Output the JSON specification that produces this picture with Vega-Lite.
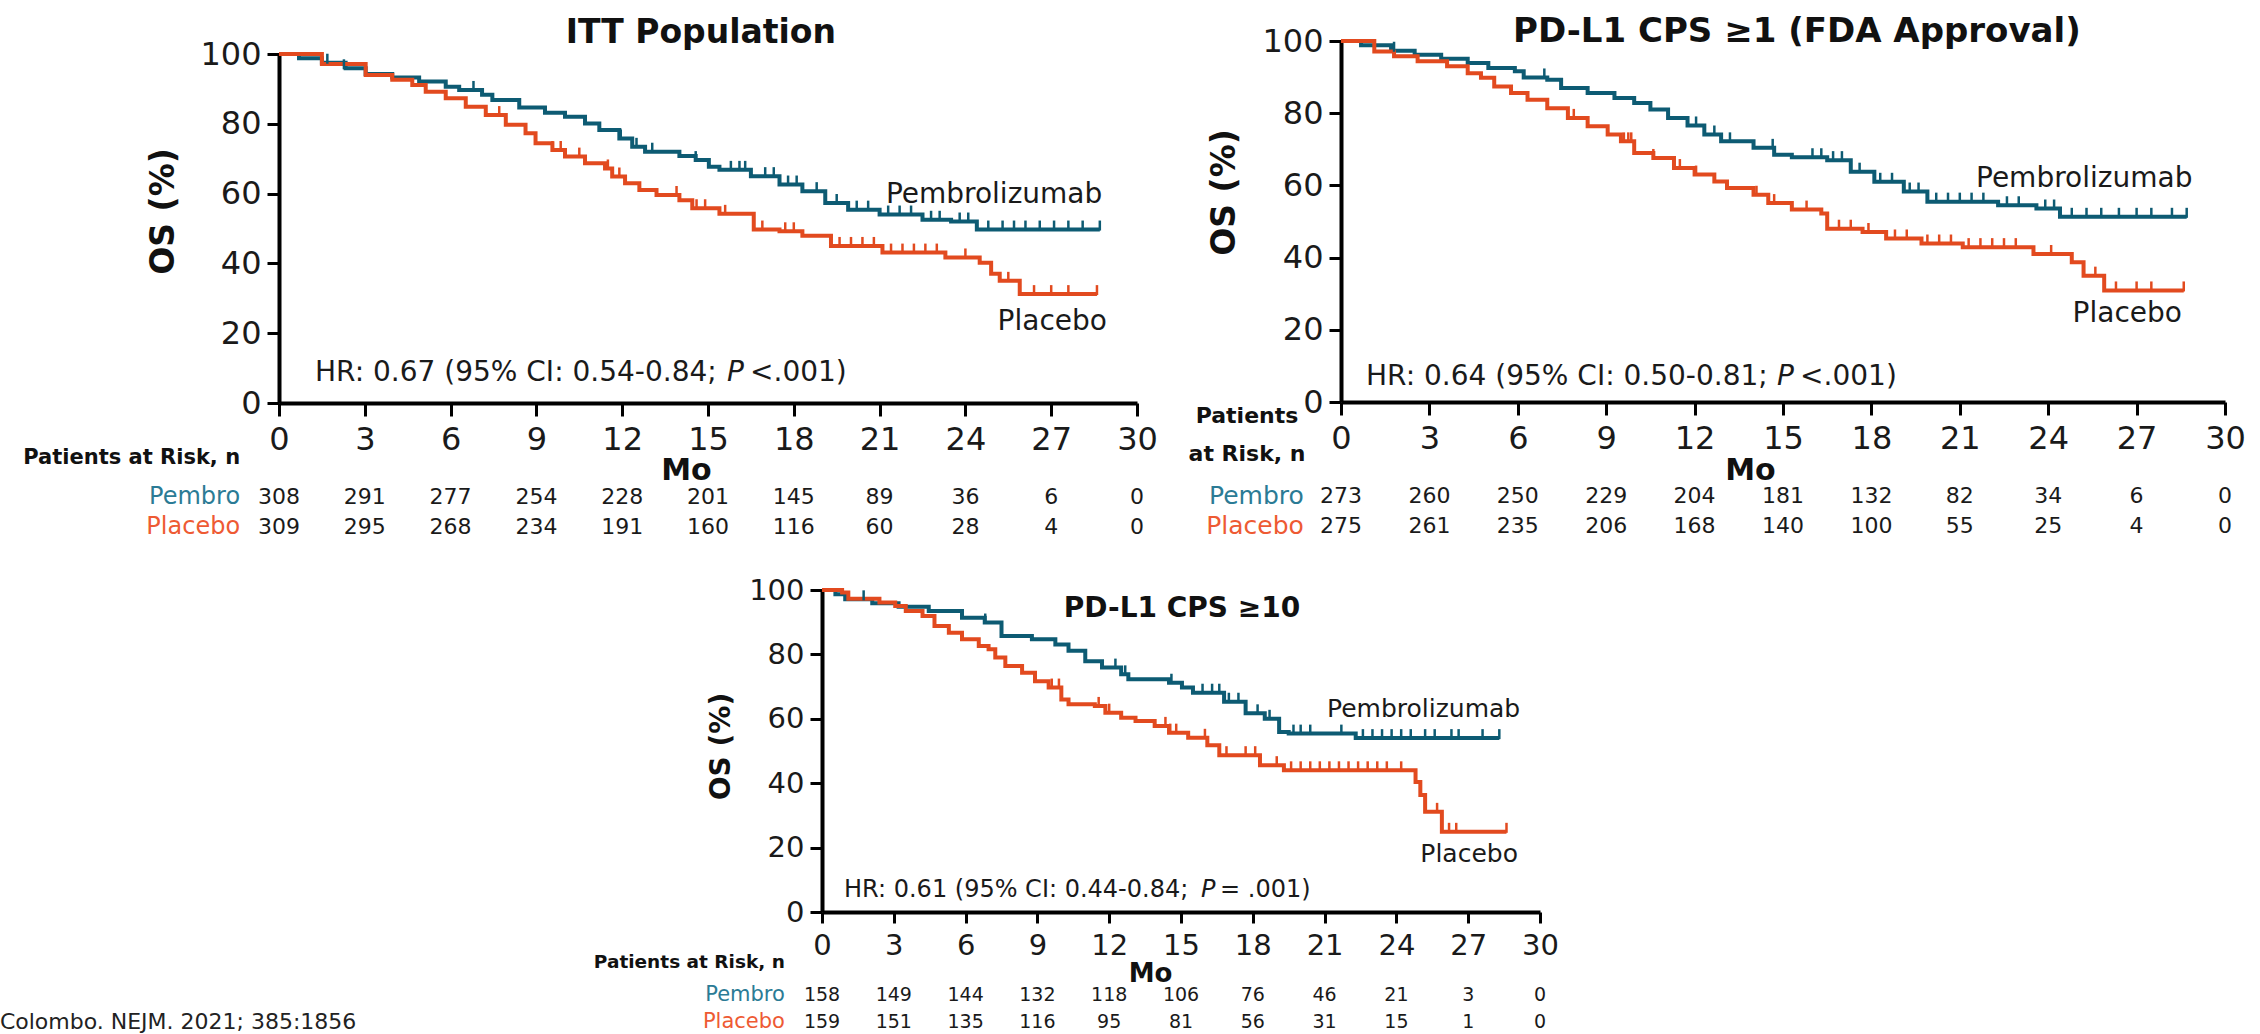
{
"$schema": "https://vega.github.io/schema/vega-lite/v6.json",
"width": 2260, "height": 1034,
"autosize": {"type": "none"},
"padding": 0,
"background": "#ffffff",
"config": {
  "font": "DejaVu Sans",
  "view": {"stroke": null},
  "text": {"color": "#1a1a1a"},
  "axis": {"grid": false, "domainColor": "#000000", "tickColor": "#000000", "labelColor": "#1a1a1a", "titleColor": "#111111", "labelFlush": false, "labelOverlap": false, "labelBound": false, "domainWidth": 4, "tickWidth": 3, "titleFontWeight": "bold", "labelFont": "DejaVu Sans", "titleFont": "DejaVu Sans", "format": "d"}
},
"datasets": {
"km": [
{"panel":"ITT","arm":"Pembrolizumab","month":0,"os":100},{"panel":"ITT","arm":"Pembrolizumab","month":0.7,"os":98.8},{"panel":"ITT","arm":"Pembrolizumab","month":1.5,"os":97.5},{"panel":"ITT","arm":"Pembrolizumab","month":2.33,"os":95.9},{"panel":"ITT","arm":"Pembrolizumab","month":3.03,"os":94.3},{"panel":"ITT","arm":"Pembrolizumab","month":3.96,"os":93.3},{"panel":"ITT","arm":"Pembrolizumab","month":4.9,"os":92.1},{"panel":"ITT","arm":"Pembrolizumab","month":5.83,"os":90.6},{"panel":"ITT","arm":"Pembrolizumab","month":6.3,"os":89.7},{"panel":"ITT","arm":"Pembrolizumab","month":7.1,"os":88.3},{"panel":"ITT","arm":"Pembrolizumab","month":7.46,"os":86.8},{"panel":"ITT","arm":"Pembrolizumab","month":8.4,"os":84.7},{"panel":"ITT","arm":"Pembrolizumab","month":9.3,"os":83.2},{"panel":"ITT","arm":"Pembrolizumab","month":10,"os":82},{"panel":"ITT","arm":"Pembrolizumab","month":10.7,"os":80.1},{"panel":"ITT","arm":"Pembrolizumab","month":11.2,"os":78.2},{"panel":"ITT","arm":"Pembrolizumab","month":11.9,"os":75.8},{"panel":"ITT","arm":"Pembrolizumab","month":12.35,"os":73.4},{"panel":"ITT","arm":"Pembrolizumab","month":12.8,"os":72},{"panel":"ITT","arm":"Pembrolizumab","month":14,"os":70.8},{"panel":"ITT","arm":"Pembrolizumab","month":14.57,"os":69.6},{"panel":"ITT","arm":"Pembrolizumab","month":15.03,"os":67.7},{"panel":"ITT","arm":"Pembrolizumab","month":15.4,"os":66.8},{"panel":"ITT","arm":"Pembrolizumab","month":16.5,"os":65},{"panel":"ITT","arm":"Pembrolizumab","month":17.5,"os":62.6},{"panel":"ITT","arm":"Pembrolizumab","month":18.3,"os":60.7},{"panel":"ITT","arm":"Pembrolizumab","month":19.1,"os":57.3},{"panel":"ITT","arm":"Pembrolizumab","month":19.9,"os":55.4},{"panel":"ITT","arm":"Pembrolizumab","month":21,"os":54},{"panel":"ITT","arm":"Pembrolizumab","month":22.5,"os":52.5},{"panel":"ITT","arm":"Pembrolizumab","month":23.5,"os":52},{"panel":"ITT","arm":"Pembrolizumab","month":24.4,"os":49.7},{"panel":"ITT","arm":"Pembrolizumab","month":28.7,"os":49.7},
{"panel":"ITT","arm":"Placebo","month":0,"os":100},{"panel":"ITT","arm":"Placebo","month":1.5,"os":97.1},{"panel":"ITT","arm":"Placebo","month":3.03,"os":94},{"panel":"ITT","arm":"Placebo","month":3.96,"os":92.6},{"panel":"ITT","arm":"Placebo","month":4.66,"os":91.1},{"panel":"ITT","arm":"Placebo","month":5.13,"os":89.2},{"panel":"ITT","arm":"Placebo","month":5.83,"os":87.3},{"panel":"ITT","arm":"Placebo","month":6.53,"os":84.9},{"panel":"ITT","arm":"Placebo","month":7.23,"os":82.5},{"panel":"ITT","arm":"Placebo","month":7.93,"os":79.7},{"panel":"ITT","arm":"Placebo","month":8.62,"os":77.3},{"panel":"ITT","arm":"Placebo","month":8.97,"os":74.4},{"panel":"ITT","arm":"Placebo","month":9.56,"os":72.5},{"panel":"ITT","arm":"Placebo","month":10,"os":70.6},{"panel":"ITT","arm":"Placebo","month":10.7,"os":68.7},{"panel":"ITT","arm":"Placebo","month":11.4,"os":67.2},{"panel":"ITT","arm":"Placebo","month":11.65,"os":64.9},{"panel":"ITT","arm":"Placebo","month":12.1,"os":63},{"panel":"ITT","arm":"Placebo","month":12.6,"os":61},{"panel":"ITT","arm":"Placebo","month":13.2,"os":59.6},{"panel":"ITT","arm":"Placebo","month":14,"os":58.1},{"panel":"ITT","arm":"Placebo","month":14.45,"os":55.8},{"panel":"ITT","arm":"Placebo","month":15.4,"os":54.2},{"panel":"ITT","arm":"Placebo","month":16.6,"os":49.7},{"panel":"ITT","arm":"Placebo","month":17.5,"os":49.2},{"panel":"ITT","arm":"Placebo","month":18.3,"os":47.9},{"panel":"ITT","arm":"Placebo","month":19.3,"os":45},{"panel":"ITT","arm":"Placebo","month":21.1,"os":43.1},{"panel":"ITT","arm":"Placebo","month":23.3,"os":41.7},{"panel":"ITT","arm":"Placebo","month":24.5,"os":40.2},{"panel":"ITT","arm":"Placebo","month":24.9,"os":37},{"panel":"ITT","arm":"Placebo","month":25.2,"os":35},{"panel":"ITT","arm":"Placebo","month":25.9,"os":31.2},{"panel":"ITT","arm":"Placebo","month":28.6,"os":31.2},
{"panel":"CPS1","arm":"Pembrolizumab","month":0,"os":100},{"panel":"CPS1","arm":"Pembrolizumab","month":0.68,"os":98.8},{"panel":"CPS1","arm":"Pembrolizumab","month":1.7,"os":97.3},{"panel":"CPS1","arm":"Pembrolizumab","month":2.5,"os":96.2},{"panel":"CPS1","arm":"Pembrolizumab","month":3.4,"os":95.1},{"panel":"CPS1","arm":"Pembrolizumab","month":4.3,"os":93.9},{"panel":"CPS1","arm":"Pembrolizumab","month":5,"os":92.5},{"panel":"CPS1","arm":"Pembrolizumab","month":5.9,"os":91.6},{"panel":"CPS1","arm":"Pembrolizumab","month":6.2,"os":89.9},{"panel":"CPS1","arm":"Pembrolizumab","month":7,"os":89.3},{"panel":"CPS1","arm":"Pembrolizumab","month":7.47,"os":87},{"panel":"CPS1","arm":"Pembrolizumab","month":8.37,"os":85.6},{"panel":"CPS1","arm":"Pembrolizumab","month":9.28,"os":84.2},{"panel":"CPS1","arm":"Pembrolizumab","month":9.95,"os":82.8},{"panel":"CPS1","arm":"Pembrolizumab","month":10.5,"os":81},{"panel":"CPS1","arm":"Pembrolizumab","month":11.1,"os":78.7},{"panel":"CPS1","arm":"Pembrolizumab","month":11.76,"os":76.6},{"panel":"CPS1","arm":"Pembrolizumab","month":12.33,"os":74.1},{"panel":"CPS1","arm":"Pembrolizumab","month":12.9,"os":72.2},{"panel":"CPS1","arm":"Pembrolizumab","month":14,"os":70.4},{"panel":"CPS1","arm":"Pembrolizumab","month":14.7,"os":68.5},{"panel":"CPS1","arm":"Pembrolizumab","month":15.3,"os":67.8},{"panel":"CPS1","arm":"Pembrolizumab","month":16.5,"os":67},{"panel":"CPS1","arm":"Pembrolizumab","month":17.3,"os":63.8},{"panel":"CPS1","arm":"Pembrolizumab","month":18.1,"os":61},{"panel":"CPS1","arm":"Pembrolizumab","month":19.1,"os":58.3},{"panel":"CPS1","arm":"Pembrolizumab","month":19.9,"os":55.5},{"panel":"CPS1","arm":"Pembrolizumab","month":22.3,"os":54.5},{"panel":"CPS1","arm":"Pembrolizumab","month":23.6,"os":53.6},{"panel":"CPS1","arm":"Pembrolizumab","month":24.4,"os":51.3},{"panel":"CPS1","arm":"Pembrolizumab","month":28.7,"os":51.3},
{"panel":"CPS1","arm":"Placebo","month":0,"os":100},{"panel":"CPS1","arm":"Placebo","month":1.13,"os":97.1},{"panel":"CPS1","arm":"Placebo","month":1.8,"os":95.8},{"panel":"CPS1","arm":"Placebo","month":2.6,"os":94.4},{"panel":"CPS1","arm":"Placebo","month":3.6,"os":93},{"panel":"CPS1","arm":"Placebo","month":4.3,"os":91.1},{"panel":"CPS1","arm":"Placebo","month":4.75,"os":89.8},{"panel":"CPS1","arm":"Placebo","month":5.2,"os":87.4},{"panel":"CPS1","arm":"Placebo","month":5.77,"os":85.6},{"panel":"CPS1","arm":"Placebo","month":6.33,"os":83.7},{"panel":"CPS1","arm":"Placebo","month":7,"os":81.4},{"panel":"CPS1","arm":"Placebo","month":7.7,"os":78.7},{"panel":"CPS1","arm":"Placebo","month":8.37,"os":76.4},{"panel":"CPS1","arm":"Placebo","month":9.05,"os":74.1},{"panel":"CPS1","arm":"Placebo","month":9.5,"os":72.2},{"panel":"CPS1","arm":"Placebo","month":9.95,"os":69},{"panel":"CPS1","arm":"Placebo","month":10.6,"os":67.6},{"panel":"CPS1","arm":"Placebo","month":11.3,"os":64.8},{"panel":"CPS1","arm":"Placebo","month":12,"os":63},{"panel":"CPS1","arm":"Placebo","month":12.67,"os":61.1},{"panel":"CPS1","arm":"Placebo","month":13.1,"os":59.3},{"panel":"CPS1","arm":"Placebo","month":14,"os":57.4},{"panel":"CPS1","arm":"Placebo","month":14.5,"os":55.1},{"panel":"CPS1","arm":"Placebo","month":15.3,"os":53.3},{"panel":"CPS1","arm":"Placebo","month":16.3,"os":52.2},{"panel":"CPS1","arm":"Placebo","month":16.5,"os":48},{"panel":"CPS1","arm":"Placebo","month":17.7,"os":47.1},{"panel":"CPS1","arm":"Placebo","month":18.5,"os":45.3},{"panel":"CPS1","arm":"Placebo","month":19.7,"os":43.9},{"panel":"CPS1","arm":"Placebo","month":21.1,"os":42.9},{"panel":"CPS1","arm":"Placebo","month":23.5,"os":41},{"panel":"CPS1","arm":"Placebo","month":24.8,"os":38.7},{"panel":"CPS1","arm":"Placebo","month":25.2,"os":35},{"panel":"CPS1","arm":"Placebo","month":25.9,"os":30.9},{"panel":"CPS1","arm":"Placebo","month":28.6,"os":30.9},
{"panel":"CPS10","arm":"Pembrolizumab","month":0,"os":100},{"panel":"CPS10","arm":"Pembrolizumab","month":0.56,"os":98.7},{"panel":"CPS10","arm":"Pembrolizumab","month":0.97,"os":97.1},{"panel":"CPS10","arm":"Pembrolizumab","month":2.1,"os":95.9},{"panel":"CPS10","arm":"Pembrolizumab","month":3.2,"os":94.8},{"panel":"CPS10","arm":"Pembrolizumab","month":4.46,"os":93.5},{"panel":"CPS10","arm":"Pembrolizumab","month":5.85,"os":91.4},{"panel":"CPS10","arm":"Pembrolizumab","month":6.8,"os":89.9},{"panel":"CPS10","arm":"Pembrolizumab","month":7.5,"os":85.7},{"panel":"CPS10","arm":"Pembrolizumab","month":8.77,"os":84.7},{"panel":"CPS10","arm":"Pembrolizumab","month":9.75,"os":83.1},{"panel":"CPS10","arm":"Pembrolizumab","month":10.3,"os":81.1},{"panel":"CPS10","arm":"Pembrolizumab","month":11,"os":77.9},{"panel":"CPS10","arm":"Pembrolizumab","month":11.7,"os":75.9},{"panel":"CPS10","arm":"Pembrolizumab","month":12.5,"os":73.8},{"panel":"CPS10","arm":"Pembrolizumab","month":12.8,"os":72.3},{"panel":"CPS10","arm":"Pembrolizumab","month":14.5,"os":71.2},{"panel":"CPS10","arm":"Pembrolizumab","month":15.04,"os":69.7},{"panel":"CPS10","arm":"Pembrolizumab","month":15.5,"os":68.1},{"panel":"CPS10","arm":"Pembrolizumab","month":16.8,"os":65.3},{"panel":"CPS10","arm":"Pembrolizumab","month":17.7,"os":61.7},{"panel":"CPS10","arm":"Pembrolizumab","month":18.5,"os":60},{"panel":"CPS10","arm":"Pembrolizumab","month":19.1,"os":55.9},{"panel":"CPS10","arm":"Pembrolizumab","month":19.5,"os":55.4},{"panel":"CPS10","arm":"Pembrolizumab","month":22.3,"os":54},{"panel":"CPS10","arm":"Pembrolizumab","month":28.3,"os":54},
{"panel":"CPS10","arm":"Placebo","month":0,"os":100},{"panel":"CPS10","arm":"Placebo","month":0.84,"os":99.2},{"panel":"CPS10","arm":"Placebo","month":1.1,"os":97.3},{"panel":"CPS10","arm":"Placebo","month":2.4,"os":96.1},{"panel":"CPS10","arm":"Placebo","month":3.06,"os":95},{"panel":"CPS10","arm":"Placebo","month":3.5,"os":93.5},{"panel":"CPS10","arm":"Placebo","month":4.2,"os":91.9},{"panel":"CPS10","arm":"Placebo","month":4.7,"os":88.8},{"panel":"CPS10","arm":"Placebo","month":5.3,"os":86.7},{"panel":"CPS10","arm":"Placebo","month":5.85,"os":84.7},{"panel":"CPS10","arm":"Placebo","month":6.55,"os":82.6},{"panel":"CPS10","arm":"Placebo","month":6.96,"os":81.6},{"panel":"CPS10","arm":"Placebo","month":7.24,"os":79},{"panel":"CPS10","arm":"Placebo","month":7.66,"os":76.4},{"panel":"CPS10","arm":"Placebo","month":8.36,"os":74.3},{"panel":"CPS10","arm":"Placebo","month":8.9,"os":71.7},{"panel":"CPS10","arm":"Placebo","month":9.47,"os":69.7},{"panel":"CPS10","arm":"Placebo","month":10,"os":66},{"panel":"CPS10","arm":"Placebo","month":10.3,"os":64.5},{"panel":"CPS10","arm":"Placebo","month":11.4,"os":64},{"panel":"CPS10","arm":"Placebo","month":11.84,"os":61.9},{"panel":"CPS10","arm":"Placebo","month":12.5,"os":60.3},{"panel":"CPS10","arm":"Placebo","month":13.1,"os":59.3},{"panel":"CPS10","arm":"Placebo","month":13.9,"os":57.8},{"panel":"CPS10","arm":"Placebo","month":14.5,"os":55.7},{"panel":"CPS10","arm":"Placebo","month":15.3,"os":54.1},{"panel":"CPS10","arm":"Placebo","month":16.1,"os":51.8},{"panel":"CPS10","arm":"Placebo","month":16.6,"os":48.7},{"panel":"CPS10","arm":"Placebo","month":18.3,"os":45.6},{"panel":"CPS10","arm":"Placebo","month":19.3,"os":44},{"panel":"CPS10","arm":"Placebo","month":24.8,"os":40.4},{"panel":"CPS10","arm":"Placebo","month":25,"os":36.3},{"panel":"CPS10","arm":"Placebo","month":25.2,"os":31.1},{"panel":"CPS10","arm":"Placebo","month":25.9,"os":24.9},{"panel":"CPS10","arm":"Placebo","month":28.6,"os":24.9}
],
"censor": [
{"panel":"ITT","arm":"Pembrolizumab","month":1.69,"os":97.5},{"panel":"ITT","arm":"Pembrolizumab","month":2.27,"os":95.9},{"panel":"ITT","arm":"Pembrolizumab","month":6.8,"os":89.7},{"panel":"ITT","arm":"Pembrolizumab","month":11.95,"os":75.8},{"panel":"ITT","arm":"Pembrolizumab","month":12.5,"os":73.4},{"panel":"ITT","arm":"Pembrolizumab","month":13.05,"os":72},{"panel":"ITT","arm":"Pembrolizumab","month":14.57,"os":69.6},{"panel":"ITT","arm":"Pembrolizumab","month":15.8,"os":66.8},{"panel":"ITT","arm":"Pembrolizumab","month":16.1,"os":66.8},{"panel":"ITT","arm":"Pembrolizumab","month":16.3,"os":66.8},{"panel":"ITT","arm":"Pembrolizumab","month":17,"os":65},{"panel":"ITT","arm":"Pembrolizumab","month":17.3,"os":65},{"panel":"ITT","arm":"Pembrolizumab","month":17.8,"os":62.6},{"panel":"ITT","arm":"Pembrolizumab","month":18.1,"os":62.6},{"panel":"ITT","arm":"Pembrolizumab","month":18.8,"os":60.7},{"panel":"ITT","arm":"Pembrolizumab","month":19.5,"os":57.3},{"panel":"ITT","arm":"Pembrolizumab","month":20.2,"os":55.4},{"panel":"ITT","arm":"Pembrolizumab","month":20.6,"os":55.4},{"panel":"ITT","arm":"Pembrolizumab","month":21.3,"os":54},{"panel":"ITT","arm":"Pembrolizumab","month":21.7,"os":54},{"panel":"ITT","arm":"Pembrolizumab","month":22.1,"os":54},{"panel":"ITT","arm":"Pembrolizumab","month":22.8,"os":52.5},{"panel":"ITT","arm":"Pembrolizumab","month":23.1,"os":52.5},{"panel":"ITT","arm":"Pembrolizumab","month":23.8,"os":52},{"panel":"ITT","arm":"Pembrolizumab","month":24.1,"os":52},{"panel":"ITT","arm":"Pembrolizumab","month":24.8,"os":49.7},{"panel":"ITT","arm":"Pembrolizumab","month":25.3,"os":49.7},{"panel":"ITT","arm":"Pembrolizumab","month":25.7,"os":49.7},{"panel":"ITT","arm":"Pembrolizumab","month":26.1,"os":49.7},{"panel":"ITT","arm":"Pembrolizumab","month":26.6,"os":49.7},{"panel":"ITT","arm":"Pembrolizumab","month":27.1,"os":49.7},{"panel":"ITT","arm":"Pembrolizumab","month":27.6,"os":49.7},{"panel":"ITT","arm":"Pembrolizumab","month":28.1,"os":49.7},{"panel":"ITT","arm":"Pembrolizumab","month":28.7,"os":49.7},
{"panel":"ITT","arm":"Placebo","month":7.7,"os":82.5},{"panel":"ITT","arm":"Placebo","month":9.56,"os":72.5},{"panel":"ITT","arm":"Placebo","month":9.85,"os":72.5},{"panel":"ITT","arm":"Placebo","month":10.5,"os":70.6},{"panel":"ITT","arm":"Placebo","month":11.5,"os":67.2},{"panel":"ITT","arm":"Placebo","month":11.9,"os":64.9},{"panel":"ITT","arm":"Placebo","month":13.9,"os":59.6},{"panel":"ITT","arm":"Placebo","month":14.6,"os":55.8},{"panel":"ITT","arm":"Placebo","month":14.9,"os":55.8},{"panel":"ITT","arm":"Placebo","month":15.6,"os":54.2},{"panel":"ITT","arm":"Placebo","month":16.9,"os":49.7},{"panel":"ITT","arm":"Placebo","month":17.7,"os":49.2},{"panel":"ITT","arm":"Placebo","month":18,"os":49.2},{"panel":"ITT","arm":"Placebo","month":19.6,"os":45},{"panel":"ITT","arm":"Placebo","month":20,"os":45},{"panel":"ITT","arm":"Placebo","month":20.4,"os":45},{"panel":"ITT","arm":"Placebo","month":20.8,"os":45},{"panel":"ITT","arm":"Placebo","month":21.4,"os":43.1},{"panel":"ITT","arm":"Placebo","month":21.8,"os":43.1},{"panel":"ITT","arm":"Placebo","month":22.2,"os":43.1},{"panel":"ITT","arm":"Placebo","month":22.6,"os":43.1},{"panel":"ITT","arm":"Placebo","month":23,"os":43.1},{"panel":"ITT","arm":"Placebo","month":24,"os":41.7},{"panel":"ITT","arm":"Placebo","month":25.5,"os":35},{"panel":"ITT","arm":"Placebo","month":26.4,"os":31.2},{"panel":"ITT","arm":"Placebo","month":27,"os":31.2},{"panel":"ITT","arm":"Placebo","month":27.6,"os":31.2},{"panel":"ITT","arm":"Placebo","month":28.6,"os":31.2},
{"panel":"CPS1","arm":"Pembrolizumab","month":1.8,"os":97.3},{"panel":"CPS1","arm":"Pembrolizumab","month":6.9,"os":89.9},{"panel":"CPS1","arm":"Pembrolizumab","month":12.05,"os":76.6},{"panel":"CPS1","arm":"Pembrolizumab","month":12.67,"os":74.1},{"panel":"CPS1","arm":"Pembrolizumab","month":13.2,"os":72.2},{"panel":"CPS1","arm":"Pembrolizumab","month":14.65,"os":70.4},{"panel":"CPS1","arm":"Pembrolizumab","month":16,"os":67.8},{"panel":"CPS1","arm":"Pembrolizumab","month":16.3,"os":67.8},{"panel":"CPS1","arm":"Pembrolizumab","month":16.7,"os":67},{"panel":"CPS1","arm":"Pembrolizumab","month":17,"os":67},{"panel":"CPS1","arm":"Pembrolizumab","month":17.6,"os":63.8},{"panel":"CPS1","arm":"Pembrolizumab","month":18.3,"os":61},{"panel":"CPS1","arm":"Pembrolizumab","month":18.7,"os":61},{"panel":"CPS1","arm":"Pembrolizumab","month":19.3,"os":58.3},{"panel":"CPS1","arm":"Pembrolizumab","month":19.6,"os":58.3},{"panel":"CPS1","arm":"Pembrolizumab","month":20.2,"os":55.5},{"panel":"CPS1","arm":"Pembrolizumab","month":20.6,"os":55.5},{"panel":"CPS1","arm":"Pembrolizumab","month":21,"os":55.5},{"panel":"CPS1","arm":"Pembrolizumab","month":21.4,"os":55.5},{"panel":"CPS1","arm":"Pembrolizumab","month":21.8,"os":55.5},{"panel":"CPS1","arm":"Pembrolizumab","month":22.6,"os":54.5},{"panel":"CPS1","arm":"Pembrolizumab","month":23,"os":54.5},{"panel":"CPS1","arm":"Pembrolizumab","month":23.9,"os":53.6},{"panel":"CPS1","arm":"Pembrolizumab","month":24.2,"os":53.6},{"panel":"CPS1","arm":"Pembrolizumab","month":24.8,"os":51.3},{"panel":"CPS1","arm":"Pembrolizumab","month":25.3,"os":51.3},{"panel":"CPS1","arm":"Pembrolizumab","month":25.8,"os":51.3},{"panel":"CPS1","arm":"Pembrolizumab","month":26.4,"os":51.3},{"panel":"CPS1","arm":"Pembrolizumab","month":27,"os":51.3},{"panel":"CPS1","arm":"Pembrolizumab","month":27.5,"os":51.3},{"panel":"CPS1","arm":"Pembrolizumab","month":28.2,"os":51.3},{"panel":"CPS1","arm":"Pembrolizumab","month":28.7,"os":51.3},
{"panel":"CPS1","arm":"Placebo","month":7.9,"os":78.7},{"panel":"CPS1","arm":"Placebo","month":9.6,"os":72.2},{"panel":"CPS1","arm":"Placebo","month":9.75,"os":72.2},{"panel":"CPS1","arm":"Placebo","month":9.85,"os":72.2},{"panel":"CPS1","arm":"Placebo","month":10.6,"os":67.6},{"panel":"CPS1","arm":"Placebo","month":11.5,"os":64.8},{"panel":"CPS1","arm":"Placebo","month":12.05,"os":63},{"panel":"CPS1","arm":"Placebo","month":14.1,"os":57.4},{"panel":"CPS1","arm":"Placebo","month":14.7,"os":55.1},{"panel":"CPS1","arm":"Placebo","month":15.8,"os":53.3},{"panel":"CPS1","arm":"Placebo","month":16.9,"os":48},{"panel":"CPS1","arm":"Placebo","month":17.3,"os":48},{"panel":"CPS1","arm":"Placebo","month":17.9,"os":47.1},{"panel":"CPS1","arm":"Placebo","month":18.8,"os":45.3},{"panel":"CPS1","arm":"Placebo","month":19.2,"os":45.3},{"panel":"CPS1","arm":"Placebo","month":19.9,"os":43.9},{"panel":"CPS1","arm":"Placebo","month":20.3,"os":43.9},{"panel":"CPS1","arm":"Placebo","month":20.7,"os":43.9},{"panel":"CPS1","arm":"Placebo","month":21.3,"os":42.9},{"panel":"CPS1","arm":"Placebo","month":21.7,"os":42.9},{"panel":"CPS1","arm":"Placebo","month":22.1,"os":42.9},{"panel":"CPS1","arm":"Placebo","month":22.5,"os":42.9},{"panel":"CPS1","arm":"Placebo","month":22.9,"os":42.9},{"panel":"CPS1","arm":"Placebo","month":24.1,"os":41},{"panel":"CPS1","arm":"Placebo","month":25.6,"os":35},{"panel":"CPS1","arm":"Placebo","month":26.3,"os":30.9},{"panel":"CPS1","arm":"Placebo","month":27,"os":30.9},{"panel":"CPS1","arm":"Placebo","month":27.5,"os":30.9},{"panel":"CPS1","arm":"Placebo","month":28.6,"os":30.9},
{"panel":"CPS10","arm":"Pembrolizumab","month":1.74,"os":97.1},{"panel":"CPS10","arm":"Pembrolizumab","month":6.82,"os":89.9},{"panel":"CPS10","arm":"Pembrolizumab","month":12.26,"os":75.9},{"panel":"CPS10","arm":"Pembrolizumab","month":12.67,"os":73.8},{"panel":"CPS10","arm":"Pembrolizumab","month":14.6,"os":71.2},{"panel":"CPS10","arm":"Pembrolizumab","month":15.9,"os":68.1},{"panel":"CPS10","arm":"Pembrolizumab","month":16.3,"os":68.1},{"panel":"CPS10","arm":"Pembrolizumab","month":16.6,"os":68.1},{"panel":"CPS10","arm":"Pembrolizumab","month":17,"os":65.3},{"panel":"CPS10","arm":"Pembrolizumab","month":17.4,"os":65.3},{"panel":"CPS10","arm":"Pembrolizumab","month":18.2,"os":61.7},{"panel":"CPS10","arm":"Pembrolizumab","month":18.7,"os":60},{"panel":"CPS10","arm":"Pembrolizumab","month":19.7,"os":55.4},{"panel":"CPS10","arm":"Pembrolizumab","month":20,"os":55.4},{"panel":"CPS10","arm":"Pembrolizumab","month":20.4,"os":55.4},{"panel":"CPS10","arm":"Pembrolizumab","month":21.7,"os":55.4},{"panel":"CPS10","arm":"Pembrolizumab","month":22.6,"os":54},{"panel":"CPS10","arm":"Pembrolizumab","month":23,"os":54},{"panel":"CPS10","arm":"Pembrolizumab","month":23.4,"os":54},{"panel":"CPS10","arm":"Pembrolizumab","month":23.8,"os":54},{"panel":"CPS10","arm":"Pembrolizumab","month":24.2,"os":54},{"panel":"CPS10","arm":"Pembrolizumab","month":24.6,"os":54},{"panel":"CPS10","arm":"Pembrolizumab","month":25.2,"os":54},{"panel":"CPS10","arm":"Pembrolizumab","month":25.6,"os":54},{"panel":"CPS10","arm":"Pembrolizumab","month":26.3,"os":54},{"panel":"CPS10","arm":"Pembrolizumab","month":26.6,"os":54},{"panel":"CPS10","arm":"Pembrolizumab","month":27.6,"os":54},{"panel":"CPS10","arm":"Pembrolizumab","month":28.3,"os":54},
{"panel":"CPS10","arm":"Placebo","month":9.6,"os":69.7},{"panel":"CPS10","arm":"Placebo","month":9.9,"os":69.7},{"panel":"CPS10","arm":"Placebo","month":11.56,"os":64},{"panel":"CPS10","arm":"Placebo","month":12,"os":61.9},{"panel":"CPS10","arm":"Placebo","month":14.35,"os":57.8},{"panel":"CPS10","arm":"Placebo","month":14.55,"os":55.7},{"panel":"CPS10","arm":"Placebo","month":14.8,"os":55.7},{"panel":"CPS10","arm":"Placebo","month":16,"os":54.1},{"panel":"CPS10","arm":"Placebo","month":16.9,"os":48.7},{"panel":"CPS10","arm":"Placebo","month":17.7,"os":48.7},{"panel":"CPS10","arm":"Placebo","month":18.1,"os":48.7},{"panel":"CPS10","arm":"Placebo","month":19,"os":45.6},{"panel":"CPS10","arm":"Placebo","month":19.6,"os":44},{"panel":"CPS10","arm":"Placebo","month":20,"os":44},{"panel":"CPS10","arm":"Placebo","month":20.4,"os":44},{"panel":"CPS10","arm":"Placebo","month":20.8,"os":44},{"panel":"CPS10","arm":"Placebo","month":21.2,"os":44},{"panel":"CPS10","arm":"Placebo","month":21.6,"os":44},{"panel":"CPS10","arm":"Placebo","month":22,"os":44},{"panel":"CPS10","arm":"Placebo","month":22.4,"os":44},{"panel":"CPS10","arm":"Placebo","month":22.8,"os":44},{"panel":"CPS10","arm":"Placebo","month":23.2,"os":44},{"panel":"CPS10","arm":"Placebo","month":23.6,"os":44},{"panel":"CPS10","arm":"Placebo","month":24.2,"os":44},{"panel":"CPS10","arm":"Placebo","month":25.7,"os":31.1},{"panel":"CPS10","arm":"Placebo","month":26.2,"os":24.9},{"panel":"CPS10","arm":"Placebo","month":26.5,"os":24.9},{"panel":"CPS10","arm":"Placebo","month":28.6,"os":24.9}
],
"risk": [
{"panel":"ITT","arm":"Pembrolizumab","month":0,"n":308},{"panel":"ITT","arm":"Pembrolizumab","month":3,"n":291},{"panel":"ITT","arm":"Pembrolizumab","month":6,"n":277},{"panel":"ITT","arm":"Pembrolizumab","month":9,"n":254},{"panel":"ITT","arm":"Pembrolizumab","month":12,"n":228},{"panel":"ITT","arm":"Pembrolizumab","month":15,"n":201},{"panel":"ITT","arm":"Pembrolizumab","month":18,"n":145},{"panel":"ITT","arm":"Pembrolizumab","month":21,"n":89},{"panel":"ITT","arm":"Pembrolizumab","month":24,"n":36},{"panel":"ITT","arm":"Pembrolizumab","month":27,"n":6},{"panel":"ITT","arm":"Pembrolizumab","month":30,"n":0},
{"panel":"ITT","arm":"Placebo","month":0,"n":309},{"panel":"ITT","arm":"Placebo","month":3,"n":295},{"panel":"ITT","arm":"Placebo","month":6,"n":268},{"panel":"ITT","arm":"Placebo","month":9,"n":234},{"panel":"ITT","arm":"Placebo","month":12,"n":191},{"panel":"ITT","arm":"Placebo","month":15,"n":160},{"panel":"ITT","arm":"Placebo","month":18,"n":116},{"panel":"ITT","arm":"Placebo","month":21,"n":60},{"panel":"ITT","arm":"Placebo","month":24,"n":28},{"panel":"ITT","arm":"Placebo","month":27,"n":4},{"panel":"ITT","arm":"Placebo","month":30,"n":0},
{"panel":"CPS1","arm":"Pembrolizumab","month":0,"n":273},{"panel":"CPS1","arm":"Pembrolizumab","month":3,"n":260},{"panel":"CPS1","arm":"Pembrolizumab","month":6,"n":250},{"panel":"CPS1","arm":"Pembrolizumab","month":9,"n":229},{"panel":"CPS1","arm":"Pembrolizumab","month":12,"n":204},{"panel":"CPS1","arm":"Pembrolizumab","month":15,"n":181},{"panel":"CPS1","arm":"Pembrolizumab","month":18,"n":132},{"panel":"CPS1","arm":"Pembrolizumab","month":21,"n":82},{"panel":"CPS1","arm":"Pembrolizumab","month":24,"n":34},{"panel":"CPS1","arm":"Pembrolizumab","month":27,"n":6},{"panel":"CPS1","arm":"Pembrolizumab","month":30,"n":0},
{"panel":"CPS1","arm":"Placebo","month":0,"n":275},{"panel":"CPS1","arm":"Placebo","month":3,"n":261},{"panel":"CPS1","arm":"Placebo","month":6,"n":235},{"panel":"CPS1","arm":"Placebo","month":9,"n":206},{"panel":"CPS1","arm":"Placebo","month":12,"n":168},{"panel":"CPS1","arm":"Placebo","month":15,"n":140},{"panel":"CPS1","arm":"Placebo","month":18,"n":100},{"panel":"CPS1","arm":"Placebo","month":21,"n":55},{"panel":"CPS1","arm":"Placebo","month":24,"n":25},{"panel":"CPS1","arm":"Placebo","month":27,"n":4},{"panel":"CPS1","arm":"Placebo","month":30,"n":0},
{"panel":"CPS10","arm":"Pembrolizumab","month":0,"n":158},{"panel":"CPS10","arm":"Pembrolizumab","month":3,"n":149},{"panel":"CPS10","arm":"Pembrolizumab","month":6,"n":144},{"panel":"CPS10","arm":"Pembrolizumab","month":9,"n":132},{"panel":"CPS10","arm":"Pembrolizumab","month":12,"n":118},{"panel":"CPS10","arm":"Pembrolizumab","month":15,"n":106},{"panel":"CPS10","arm":"Pembrolizumab","month":18,"n":76},{"panel":"CPS10","arm":"Pembrolizumab","month":21,"n":46},{"panel":"CPS10","arm":"Pembrolizumab","month":24,"n":21},{"panel":"CPS10","arm":"Pembrolizumab","month":27,"n":3},{"panel":"CPS10","arm":"Pembrolizumab","month":30,"n":0},
{"panel":"CPS10","arm":"Placebo","month":0,"n":159},{"panel":"CPS10","arm":"Placebo","month":3,"n":151},{"panel":"CPS10","arm":"Placebo","month":6,"n":135},{"panel":"CPS10","arm":"Placebo","month":9,"n":116},{"panel":"CPS10","arm":"Placebo","month":12,"n":95},{"panel":"CPS10","arm":"Placebo","month":15,"n":81},{"panel":"CPS10","arm":"Placebo","month":18,"n":56},{"panel":"CPS10","arm":"Placebo","month":21,"n":31},{"panel":"CPS10","arm":"Placebo","month":24,"n":15},{"panel":"CPS10","arm":"Placebo","month":27,"n":1},{"panel":"CPS10","arm":"Placebo","month":30,"n":0}
]
},
"resolve": {"scale": {"x": "independent", "y": "independent"}, "axis": {"x": "independent", "y": "independent"}},
"layer": [
{
 "layer": [
  {"data": {"name": "km"}, "transform": [{"filter": "datum.panel === 'ITT'"}],
   "mark": {"type": "line", "interpolate": "step-after", "strokeWidth": 4},
   "encoding": {
    "x": {"field": "month", "type": "quantitative", "scale": {"domain": [0, 30], "range": [279, 1137], "nice": false, "zero": false},
      "axis": {"orient": "bottom", "offset": -631, "values": [0,3,6,9,12,15,18,21,24,27,30], "title": "Mo", "titleX": 686, "titlePadding": 0, "titleFontSize": 30, "labelFontSize": 32, "labelPadding": 8, "tickSize": 13}},
    "y": {"field": "os", "type": "quantitative", "scale": {"domain": [0, 100], "range": [403, 54], "nice": false},
      "axis": {"orient": "left", "offset": -279, "values": [0,20,40,60,80,100], "title": "OS (%)", "titleY": 211, "titlePadding": 19, "titleFontSize": 33, "labelFontSize": 32, "labelPadding": 6, "tickSize": 12}},
    "color": {"field": "arm", "type": "nominal", "scale": {"domain": ["Pembrolizumab", "Placebo"], "range": ["#0d5b73", "#e24a1f"]}, "legend": null}
   }},
  {"data": {"name": "censor"}, "transform": [{"filter": "datum.panel === 'ITT'"}],
   "mark": {"type": "tick", "orient": "vertical", "thickness": 2.5, "size": 10, "yOffset": -4, "opacity": 1},
   "encoding": {"x": {"field": "month", "type": "quantitative"}, "y": {"field": "os", "type": "quantitative"}, "color": {"field": "arm", "type": "nominal"}}},
  {"data": {"values": [{}]}, "mark": {"type": "text", "text": "ITT Population", "fontSize": 33, "fontWeight": "bold", "align": "center", "baseline": "alphabetic", "color": "#111111"},
   "encoding": {"x": {"datum": 14.75}, "y": {"datum": 103.2}}},
  {"data": {"values": [{}]}, "mark": {"type": "text", "text": "Pembrolizumab", "fontSize": 28, "align": "left", "baseline": "middle"},
   "encoding": {"x": {"datum": 21.22}, "y": {"datum": 59.6}}},
  {"data": {"values": [{}]}, "mark": {"type": "text", "text": "Placebo", "fontSize": 28, "align": "right", "baseline": "middle"},
   "encoding": {"x": {"datum": 28.95}, "y": {"datum": 23.2}}},
  {"data": {"values": [{}]}, "mark": {"type": "text", "text": "HR: 0.67 (95% CI: 0.54-0.84;", "fontSize": 28, "align": "left", "baseline": "middle"},
   "encoding": {"x": {"datum": 1.26}, "y": {"datum": 8.6}}},
  {"data": {"values": [{}]}, "mark": {"type": "text", "text": "P", "fontSize": 28, "fontStyle": "italic", "align": "left", "baseline": "middle"},
   "encoding": {"x": {"datum": 15.66}, "y": {"datum": 8.6}}},
  {"data": {"values": [{}]}, "mark": {"type": "text", "text": "<.001)", "fontSize": 28, "align": "left", "baseline": "middle"},
   "encoding": {"x": {"datum": 16.47}, "y": {"datum": 8.6}}},
  {"data": {"values": [{}]}, "mark": {"type": "text", "text": "Patients at Risk, n", "fontSize": 21, "fontWeight": "bold", "align": "right", "baseline": "middle", "color": "#111111"},
   "encoding": {"x": {"datum": -1.36}, "y": {"datum": -15.8}}},
  {"data": {"values": [{}]}, "mark": {"type": "text", "text": "Pembro", "fontSize": 24, "align": "right", "baseline": "middle", "color": "#2b7b95"},
   "encoding": {"x": {"datum": -1.36}, "y": {"datum": -26.9}}},
  {"data": {"values": [{}]}, "mark": {"type": "text", "text": "Placebo", "fontSize": 24, "align": "right", "baseline": "middle", "color": "#ee5a33"},
   "encoding": {"x": {"datum": -1.36}, "y": {"datum": -35.5}}},
  {"data": {"name": "risk"}, "transform": [{"filter": "datum.panel === 'ITT' && datum.arm === 'Pembrolizumab'"}],
   "mark": {"type": "text", "fontSize": 22, "align": "center", "baseline": "middle"},
   "encoding": {"x": {"field": "month", "type": "quantitative"}, "y": {"datum": -26.9}, "text": {"field": "n", "type": "quantitative"}}},
  {"data": {"name": "risk"}, "transform": [{"filter": "datum.panel === 'ITT' && datum.arm === 'Placebo'"}],
   "mark": {"type": "text", "fontSize": 22, "align": "center", "baseline": "middle"},
   "encoding": {"x": {"field": "month", "type": "quantitative"}, "y": {"datum": -35.5}, "text": {"field": "n", "type": "quantitative"}}}
 ]
},
{
 "layer": [
  {"data": {"name": "km"}, "transform": [{"filter": "datum.panel === 'CPS1'"}],
   "mark": {"type": "line", "interpolate": "step-after", "strokeWidth": 4},
   "encoding": {
    "x": {"field": "month", "type": "quantitative", "scale": {"domain": [0, 30], "range": [1341, 2225], "nice": false, "zero": false},
      "axis": {"orient": "bottom", "offset": -632, "values": [0,3,6,9,12,15,18,21,24,27,30], "title": "Mo", "titleX": 1750, "titlePadding": 1, "titleFontSize": 30, "labelFontSize": 32, "labelPadding": 8, "tickSize": 13}},
    "y": {"field": "os", "type": "quantitative", "scale": {"domain": [0, 100], "range": [402, 41], "nice": false},
      "axis": {"orient": "left", "offset": -1341, "values": [0,20,40,60,80,100], "title": "OS (%)", "titleY": 192, "titlePadding": 20, "titleFontSize": 33, "labelFontSize": 32, "labelPadding": 6, "tickSize": 12}},
    "color": {"field": "arm", "type": "nominal", "legend": null}
   }},
  {"data": {"name": "censor"}, "transform": [{"filter": "datum.panel === 'CPS1'"}],
   "mark": {"type": "tick", "orient": "vertical", "thickness": 2.5, "size": 10, "yOffset": -4, "opacity": 1},
   "encoding": {"x": {"field": "month", "type": "quantitative"}, "y": {"field": "os", "type": "quantitative"}, "color": {"field": "arm", "type": "nominal"}}},
  {"data": {"values": [{}]}, "mark": {"type": "text", "text": "PD-L1 CPS ≥1 (FDA Approval)", "fontSize": 34, "fontWeight": "bold", "align": "center", "baseline": "alphabetic", "color": "#111111"},
   "encoding": {"x": {"datum": 15.47}, "y": {"datum": 99.7}}},
  {"data": {"values": [{}]}, "mark": {"type": "text", "text": "Pembrolizumab", "fontSize": 28, "align": "left", "baseline": "middle"},
   "encoding": {"x": {"datum": 21.55}, "y": {"datum": 61.8}}},
  {"data": {"values": [{}]}, "mark": {"type": "text", "text": "Placebo", "fontSize": 28, "align": "right", "baseline": "middle"},
   "encoding": {"x": {"datum": 28.54}, "y": {"datum": 24.4}}},
  {"data": {"values": [{}]}, "mark": {"type": "text", "text": "HR: 0.64 (95% CI: 0.50-0.81;", "fontSize": 28, "align": "left", "baseline": "middle"},
   "encoding": {"x": {"datum": 0.85}, "y": {"datum": 6.9}}},
  {"data": {"values": [{}]}, "mark": {"type": "text", "text": "P", "fontSize": 28, "fontStyle": "italic", "align": "left", "baseline": "middle"},
   "encoding": {"x": {"datum": 14.8}, "y": {"datum": 6.9}}},
  {"data": {"values": [{}]}, "mark": {"type": "text", "text": "<.001)", "fontSize": 28, "align": "left", "baseline": "middle"},
   "encoding": {"x": {"datum": 15.58}, "y": {"datum": 6.9}}},
  {"data": {"values": [{}]}, "mark": {"type": "text", "text": "Patients", "fontSize": 22, "fontWeight": "bold", "align": "center", "baseline": "middle", "color": "#111111"},
   "encoding": {"x": {"datum": -3.19}, "y": {"datum": -3.9}}},
  {"data": {"values": [{}]}, "mark": {"type": "text", "text": "at Risk, n", "fontSize": 22, "fontWeight": "bold", "align": "center", "baseline": "middle", "color": "#111111"},
   "encoding": {"x": {"datum": -3.19}, "y": {"datum": -14.4}}},
  {"data": {"values": [{}]}, "mark": {"type": "text", "text": "Pembro", "fontSize": 25, "align": "right", "baseline": "middle", "color": "#2b7b95"},
   "encoding": {"x": {"datum": -1.26}, "y": {"datum": -26.0}}},
  {"data": {"values": [{}]}, "mark": {"type": "text", "text": "Placebo", "fontSize": 25, "align": "right", "baseline": "middle", "color": "#ee5a33"},
   "encoding": {"x": {"datum": -1.26}, "y": {"datum": -34.3}}},
  {"data": {"name": "risk"}, "transform": [{"filter": "datum.panel === 'CPS1' && datum.arm === 'Pembrolizumab'"}],
   "mark": {"type": "text", "fontSize": 22, "align": "center", "baseline": "middle"},
   "encoding": {"x": {"field": "month", "type": "quantitative"}, "y": {"datum": -26.0}, "text": {"field": "n", "type": "quantitative"}}},
  {"data": {"name": "risk"}, "transform": [{"filter": "datum.panel === 'CPS1' && datum.arm === 'Placebo'"}],
   "mark": {"type": "text", "fontSize": 22, "align": "center", "baseline": "middle"},
   "encoding": {"x": {"field": "month", "type": "quantitative"}, "y": {"datum": -34.3}, "text": {"field": "n", "type": "quantitative"}}}
 ]
},
{
 "layer": [
  {"data": {"name": "km"}, "transform": [{"filter": "datum.panel === 'CPS10'"}],
   "mark": {"type": "line", "interpolate": "step-after", "strokeWidth": 4},
   "encoding": {
    "x": {"field": "month", "type": "quantitative", "scale": {"domain": [0, 30], "range": [822, 1540], "nice": false, "zero": false},
      "axis": {"orient": "bottom", "offset": -122, "values": [0,3,6,9,12,15,18,21,24,27,30], "title": "Mo", "titleX": 1150, "titlePadding": 0, "titleFontSize": 26, "labelFontSize": 29, "labelPadding": 8, "tickSize": 11}},
    "y": {"field": "os", "type": "quantitative", "scale": {"domain": [0, 100], "range": [912, 590], "nice": false},
      "axis": {"orient": "left", "offset": -822, "values": [0,20,40,60,80,100], "title": "OS (%)", "titleY": 746, "titlePadding": 13, "titleFontSize": 28, "labelFontSize": 29, "labelPadding": 6, "tickSize": 12}},
    "color": {"field": "arm", "type": "nominal", "legend": null}
   }},
  {"data": {"name": "censor"}, "transform": [{"filter": "datum.panel === 'CPS10'"}],
   "mark": {"type": "tick", "orient": "vertical", "thickness": 2.5, "size": 10, "yOffset": -4, "opacity": 1},
   "encoding": {"x": {"field": "month", "type": "quantitative"}, "y": {"field": "os", "type": "quantitative"}, "color": {"field": "arm", "type": "nominal"}}},
  {"data": {"values": [{}]}, "mark": {"type": "text", "text": "PD-L1 CPS ≥10", "fontSize": 28, "fontWeight": "bold", "align": "center", "baseline": "alphabetic", "color": "#111111"},
   "encoding": {"x": {"datum": 15.04}, "y": {"datum": 91.6}}},
  {"data": {"values": [{}]}, "mark": {"type": "text", "text": "Pembrolizumab", "fontSize": 25, "align": "left", "baseline": "middle"},
   "encoding": {"x": {"datum": 21.1}, "y": {"datum": 63.0}}},
  {"data": {"values": [{}]}, "mark": {"type": "text", "text": "Placebo", "fontSize": 25, "align": "right", "baseline": "middle"},
   "encoding": {"x": {"datum": 29.08}, "y": {"datum": 18.0}}},
  {"data": {"values": [{}]}, "mark": {"type": "text", "text": "HR: 0.61 (95% CI: 0.44-0.84;", "fontSize": 24, "align": "left", "baseline": "middle"},
   "encoding": {"x": {"datum": 0.92}, "y": {"datum": 6.8}}},
  {"data": {"values": [{}]}, "mark": {"type": "text", "text": "P", "fontSize": 24, "fontStyle": "italic", "align": "left", "baseline": "middle"},
   "encoding": {"x": {"datum": 15.84}, "y": {"datum": 6.8}}},
  {"data": {"values": [{}]}, "mark": {"type": "text", "text": "= .001)", "fontSize": 24, "align": "left", "baseline": "middle"},
   "encoding": {"x": {"datum": 16.63}, "y": {"datum": 6.8}}},
  {"data": {"values": [{}]}, "mark": {"type": "text", "text": "Patients at Risk, n", "fontSize": 18.5, "fontWeight": "bold", "align": "right", "baseline": "middle", "color": "#111111"},
   "encoding": {"x": {"datum": -1.55}, "y": {"datum": -15.5}}},
  {"data": {"values": [{}]}, "mark": {"type": "text", "text": "Pembro", "fontSize": 21, "align": "right", "baseline": "middle", "color": "#2b7b95"},
   "encoding": {"x": {"datum": -1.55}, "y": {"datum": -25.8}}},
  {"data": {"values": [{}]}, "mark": {"type": "text", "text": "Placebo", "fontSize": 21, "align": "right", "baseline": "middle", "color": "#ee5a33"},
   "encoding": {"x": {"datum": -1.55}, "y": {"datum": -34.2}}},
  {"data": {"name": "risk"}, "transform": [{"filter": "datum.panel === 'CPS10' && datum.arm === 'Pembrolizumab'"}],
   "mark": {"type": "text", "fontSize": 19, "align": "center", "baseline": "middle"},
   "encoding": {"x": {"field": "month", "type": "quantitative"}, "y": {"datum": -25.8}, "text": {"field": "n", "type": "quantitative"}}},
  {"data": {"name": "risk"}, "transform": [{"filter": "datum.panel === 'CPS10' && datum.arm === 'Placebo'"}],
   "mark": {"type": "text", "fontSize": 19, "align": "center", "baseline": "middle"},
   "encoding": {"x": {"field": "month", "type": "quantitative"}, "y": {"datum": -34.2}, "text": {"field": "n", "type": "quantitative"}}},
  {"data": {"values": [{}]}, "mark": {"type": "text", "text": "Colombo. NEJM. 2021; 385:1856", "fontSize": 22, "align": "left", "baseline": "bottom", "color": "#222222"},
   "encoding": {"x": {"datum": -34.35}, "y": {"datum": -37.8}}}
 ]
}
]
}
